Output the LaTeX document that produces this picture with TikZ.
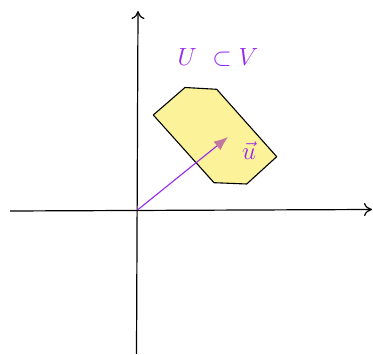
\documentclass[tikz,border=0pt]{standalone}
\usetikzlibrary{arrows.meta}
\definecolor{fillY}{RGB}{252,242,153}
\definecolor{purp}{RGB}{150,40,240}
\definecolor{mauve}{RGB}{192,120,160}
\begin{document}
\begin{tikzpicture}[x=1pt,y=-1pt,
  axis/.style={line width=1.2pt,-{To[length=8pt,width=13pt,line width=1.2pt]}},
  region/.style={draw=black,line width=1.1pt,fill=fillY,line join=round},
  vecarrow/.style={draw=purp,line width=1.1pt,-{Latex[length=14pt,width=11pt,fill=mauve,color=mauve]}},
  lbl/.style={text=purp,inner sep=0pt}]
\useasboundingbox (0,0) rectangle (373,355);
\coordinate (xl) at (10,211);
\coordinate (xr) at (372,209.5);
\coordinate (yb) at (136.5,354);
\coordinate (yt) at (138,11);
\coordinate (o) at (137.5,210);
\coordinate (tip) at (228,137);
\draw[region] (153.3,115) -- (185,87.5) -- (216.7,89.3) -- (276.7,156.7) -- (246.7,184) -- (214,182.7) -- cycle;
\draw[axis] (xl) -- (xr);
\draw[axis] (yb) -- (yt);
\draw[vecarrow] (o) -- (tip);
\node[lbl,font=\fontsize{29}{34}\selectfont] (uv) at (218,57) {$U\ \subset V$};
\node[lbl,font=\fontsize{27}{32}\selectfont] (u) at (249,151) {$\vec{u}$};
\end{tikzpicture}
\end{document}
